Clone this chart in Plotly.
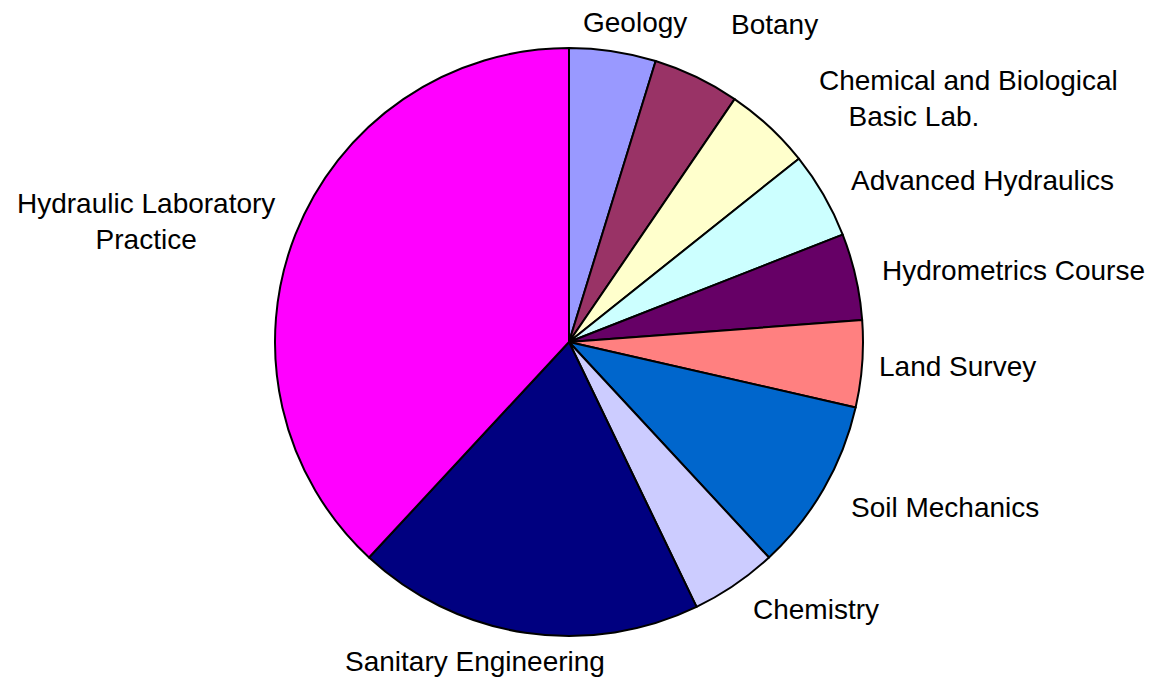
import numpy as np
import plotly.graph_objects as go

# slices, clockwise from 12 o'clock
labels = ["Geology", "Botany", "Chemical and Biological<br>Basic Lab." + "&nbsp;" * 14,
          "Advanced Hydraulics", "Hydrometrics Course", "Land Survey",
          "Soil Mechanics", "Chemistry", "Sanitary Engineering",
          "Hydraulic Laboratory<br>Practice"]
values = [1, 1, 1, 1, 1, 1, 2, 1, 4, 8]
colors = ["#9999FF", "#993366", "#FFFFCC", "#CCFFFF", "#660066",
          "#FF8080", "#0066CC", "#CCCCFF", "#000080", "#FF00FF"]

W, H = 1156, 682
mt, mb = 40, 54
plot_h = H - mt - mb
cx = 561 / W                      # pie centre (paper x); page body adds 8px
radius = plot_h / 2               # pie radius in px

fig = go.Figure(go.Pie(
    labels=labels,
    values=values,
    marker=dict(colors=colors, line=dict(color="black", width=2)),
    sort=False,
    direction="clockwise",
    rotation=0,
    textinfo="none",
    hoverinfo="label+value",
    domain=dict(x=[cx - 0.3, cx + 0.3], y=[0, 1]),
))

# labels outside the pie, placed from the slice mid-angles
vals = np.array(values, dtype=float)
mid = (np.cumsum(vals) - vals / 2) / vals.sum() * 2 * np.pi
nudge = {0: (18, 0), 1: (20, 26), 2: (28, 6), 4: (-4, 0), 5: (-14, 0),
         6: (0, -4), 8: (-46, 0), 9: (9, 2)}
r_lab = radius * 1.1
for i, (lab, a) in enumerate(zip(labels, mid)):
    s, c = np.sin(a), np.cos(a)
    xa = "left" if s > 0.3 else ("right" if s < -0.3 else "center")
    dx, dy = nudge.get(i, (0, 0))
    fig.add_annotation(
        x=cx + r_lab * s / W, y=0.5 + r_lab * c / plot_h,
        xref="paper", yref="paper", text=lab, showarrow=False,
        xanchor=xa, yanchor="middle", align="center",
        xshift=dx, yshift=dy,
        font=dict(family="Liberation Sans, Arial", size=28, color="black"),
    )

fig.update_layout(
    width=W, height=H,
    margin=dict(l=0, r=0, t=mt, b=mb),
    paper_bgcolor="white", plot_bgcolor="white",
    showlegend=False,
)

fig.write_html("out.html")
